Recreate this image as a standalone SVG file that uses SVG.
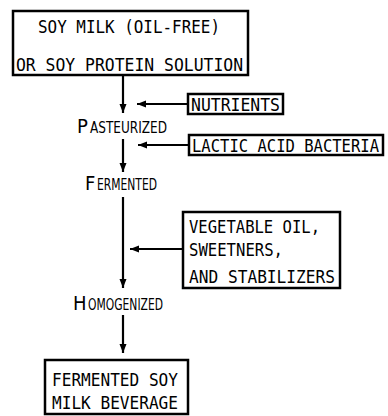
<svg xmlns="http://www.w3.org/2000/svg" width="388" height="416" viewBox="0 0 388 416">
<style>
.box{fill:#fff;stroke:#000;stroke-width:2.5}
.t{font-family:"DejaVu Sans Mono","Liberation Mono",monospace;font-size:18px;fill:#000}
.l{font-family:"DejaVu Sans Condensed","DejaVu Sans",sans-serif;fill:#000}
.cap{font-size:20px}
.sc{font-size:15px}
.c{stroke:#000;stroke-width:2.2;fill:none}
</style>
<defs>
<marker id="ah" markerUnits="userSpaceOnUse" markerWidth="10" markerHeight="8" refX="9" refY="3.5" orient="auto">
<path d="M0,0 L9,3.5 L0,7 z" fill="#000"/>
</marker>
</defs>
<rect width="388" height="416" fill="#fff"/>
<g id="connectors">
<line class="c" x1="123" y1="76" x2="123" y2="113" marker-end="url(#ah)"/>
<line class="c" x1="187" y1="104" x2="137" y2="104" marker-end="url(#ah)"/>
<line class="c" x1="123" y1="139" x2="123" y2="172" marker-end="url(#ah)"/>
<line class="c" x1="189" y1="145" x2="138" y2="145" marker-end="url(#ah)"/>
<line class="c" x1="123" y1="197" x2="123" y2="288" marker-end="url(#ah)"/>
<line class="c" x1="183" y1="249" x2="130" y2="249" marker-end="url(#ah)"/>
<line class="c" x1="123" y1="315" x2="123" y2="353" marker-end="url(#ah)"/>
</g>
<g id="soy-milk">
<rect class="box" x="13" y="11" width="235" height="64"/>
<text class="t" x="38" y="33" textLength="182" lengthAdjust="spacingAndGlyphs">SOY MILK (OIL-FREE)</text>
<text class="t" x="16" y="71" textLength="227" lengthAdjust="spacingAndGlyphs">OR SOY PROTEIN SOLUTION</text>
</g>
<g id="nutrients">
<rect class="box" x="188" y="94" width="95" height="20"/>
<text class="t" x="191" y="111" textLength="89" lengthAdjust="spacingAndGlyphs">NUTRIENTS</text>
</g>
<g id="pasteurized">
<text class="l cap" x="77" y="133">P</text>
<text class="l sc" x="90" y="133" textLength="77" lengthAdjust="spacingAndGlyphs">ASTEURIZED</text>
</g>
<g id="lactic">
<rect class="box" x="189" y="135" width="194" height="20"/>
<text class="t" transform="translate(192,152) scale(1,1.16)" x="0" y="0" style="font-size:15.5px" textLength="187" lengthAdjust="spacingAndGlyphs">LACTIC ACID BACTERIA</text>
</g>
<g id="fermented">
<text class="l cap" x="85" y="190">F</text>
<text class="l sc" x="97" y="190" textLength="60" lengthAdjust="spacingAndGlyphs">ERMENTED</text>
</g>
<g id="additives">
<rect class="box" x="183" y="212" width="157" height="76"/>
<text class="t" x="189" y="233" textLength="131" lengthAdjust="spacingAndGlyphs">VEGETABLE OIL,</text>
<text class="t" x="189" y="256" textLength="94" lengthAdjust="spacingAndGlyphs">SWEETNERS,</text>
<text class="t" x="189" y="283" textLength="146" lengthAdjust="spacingAndGlyphs">AND STABILIZERS</text>
</g>
<g id="homogenized">
<text class="l cap" x="73" y="310">H</text>
<text class="l sc" x="88" y="310" textLength="75" lengthAdjust="spacingAndGlyphs">OMOGENIZED</text>
</g>
<g id="beverage">
<rect class="box" x="45" y="360" width="143" height="54"/>
<text class="t" x="52" y="386" textLength="126" lengthAdjust="spacingAndGlyphs">FERMENTED SOY</text>
<text class="t" x="52" y="409" textLength="126" lengthAdjust="spacingAndGlyphs">MILK BEVERAGE</text>
</g>
</svg>
